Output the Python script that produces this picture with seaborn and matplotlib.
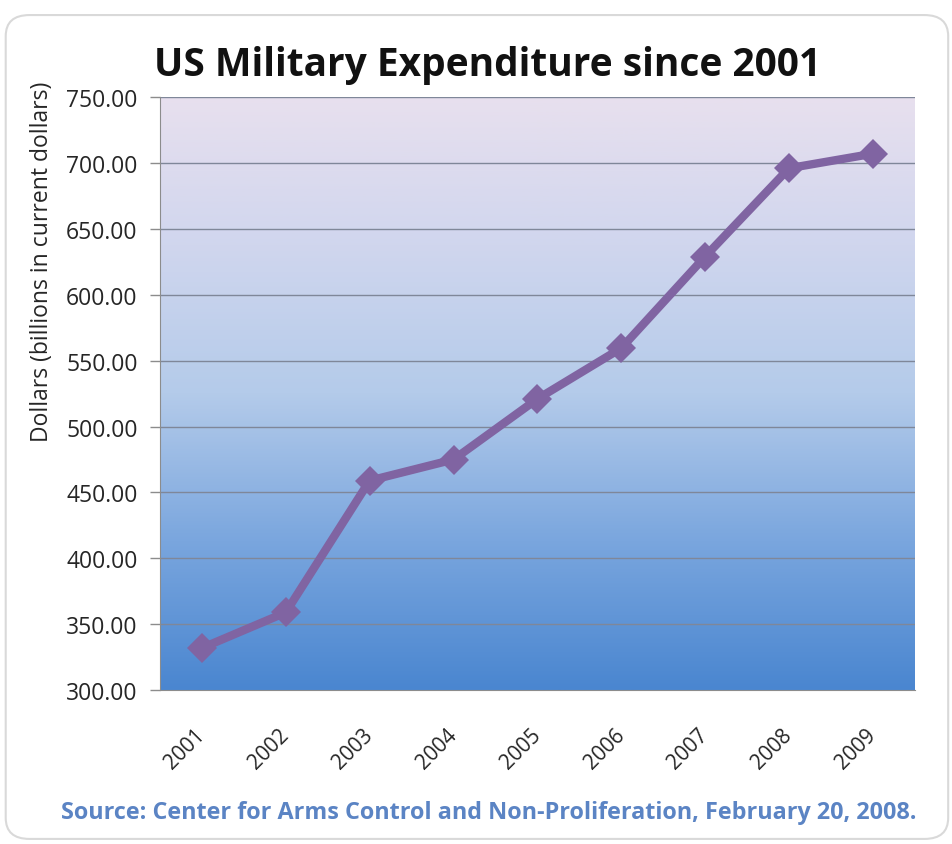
import numpy as np
import pandas as pd
import matplotlib
matplotlib.use("Agg")
import matplotlib.pyplot as plt
import seaborn as sns
from matplotlib.colors import LinearSegmentedColormap
from matplotlib.patches import FancyBboxPatch

years = ["2001", "2002", "2003", "2004", "2005", "2006", "2007", "2008", "2009"]
spending = [332.0, 359.0, 459.0, 475.0, 521.0, 559.5, 629.0, 696.0, 707.0]
y_ticks = [300, 350, 400, 450, 500, 550, 600, 650, 700, 750]

df = pd.DataFrame({"year": years, "spending": spending})

sns.set_style("white")
plt.rcParams["font.family"] = ["Open Sans", "DejaVu Sans"]

fig = plt.figure(figsize=(9.52, 8.45), dpi=100)
fig.patch.set_facecolor("white")
# rounded frame around the whole chart
fig.patches.append(FancyBboxPatch((0.006, 0.006), 0.99, 0.975,
                                  boxstyle="round,pad=0,rounding_size=0.025",
                                  transform=fig.transFigure, fc="white",
                                  ec="#d9d9d9", lw=1.5, zorder=-5))

ax = fig.add_axes([0.168, 0.182, 0.793, 0.702])

# gradient backdrop
cmap = LinearSegmentedColormap.from_list(
    "bg", ["#4a86d0", "#7aa6de", "#b4cbea", "#d0d6ee", "#e8e0ee"])
grad = np.linspace(0, 1, 256).reshape(-1, 1)
ax.imshow(grad, cmap=cmap, aspect="auto", origin="lower",
          extent=[-0.5, len(years) - 0.5, 300, 750], zorder=0)

for t in y_ticks[1:]:
    ax.axhline(t, color="#7f8799", lw=1.0, zorder=1)

sns.lineplot(data=df, x="year", y="spending", ax=ax, color="#8064a2",
             lw=6, marker="D", markersize=15.5, markeredgewidth=0,
             sort=False, zorder=3)

ax.set_xlim(-0.5, len(years) - 0.5)
ax.set_ylim(300, 750)
ax.set_yticks(y_ticks)
ax.set_yticklabels([f"{v:.2f}" for v in y_ticks])
ax.set_xticks(range(len(years)))
ax.set_xticklabels(years, rotation=45, ha="right", va="center",
                   rotation_mode="anchor")
ax.set_xticks(np.arange(-0.5, len(years), 1), minor=True)
ax.tick_params(axis="x", which="major", length=0, labelsize=15, pad=30,
               labelcolor="#262626")
ax.tick_params(axis="x", which="minor", length=9, width=1, color="#8c8c8c")
ax.tick_params(axis="y", length=7, width=1, color="#8c8c8c", labelsize=16.5,
               labelcolor="#262626", left=True, pad=9)

for side in ["top", "right"]:
    ax.spines[side].set_visible(False)
ax.spines["left"].set_color("#8c8c8c")
ax.spines["bottom"].set_color("#8c8c8c")

ax.set_xlabel("")
ax.set_ylabel("")
fig.text(0.044, 0.69, "Dollars (billions in current dollars)", rotation=90,
         ha="center", va="center", fontsize=16.5, color="#262626")

fig.text(0.512, 0.922, "US Military Expenditure since 2001", ha="center",
         va="center", fontsize=28, fontweight="bold", color="#111111")
fig.text(0.513, 0.038,
         "Source: Center for Arms Control and Non-Proliferation, February 20, 2008.",
         ha="center", va="center", fontsize=16.8, fontweight="bold",
         color="#5b84c4")

fig.savefig("out.png", dpi=100)
